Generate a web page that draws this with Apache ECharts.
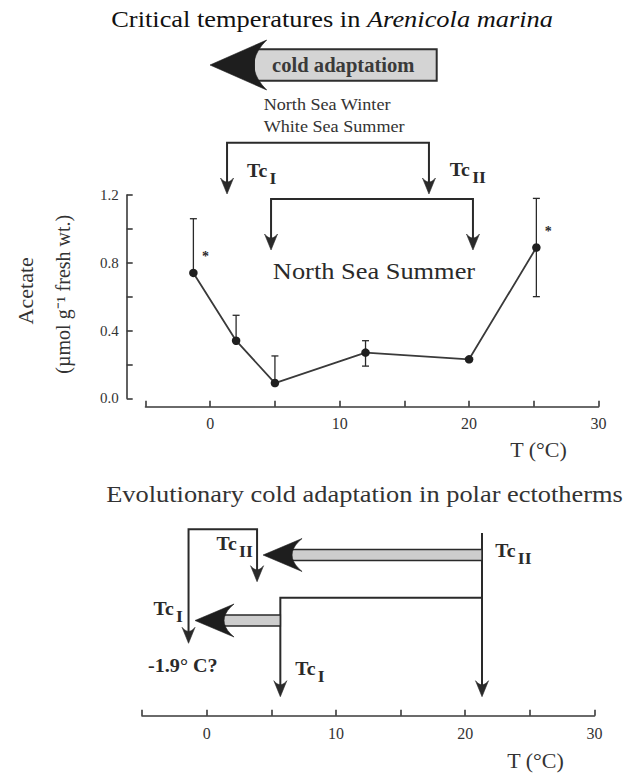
<!DOCTYPE html>
<html>
<head>
<meta charset="utf-8">
<title>Critical temperatures in Arenicola marina</title>
<script src="https://cdn.jsdelivr.net/npm/echarts@6/dist/echarts.min.js"></script>
<style>
  html, body { margin: 0; padding: 0; background: #ffffff; }
  #chart { width: 638px; height: 774px; }
</style>
</head>
<body>
<div id="chart"></div>
<script>
// ---- data ---------------------------------------------------------------
// Acetate accumulation (µmol g-1 fresh wt.) at each experimental temperature (°C)
const temperatures = [-1.3, 2, 5, 12, 20, 25.2];
const acetate      = [0.74, 0.34, 0.09, 0.27, 0.23, 0.89];
const errorUpper   = [0.32, 0.15, 0.16, 0.07, 0, 0.29];
const errorLower   = [0, 0, 0, 0.08, 0, 0.29];
const significant  = [1, 0, 0, 0, 0, 1];

// Critical temperatures [Tc I, Tc II] in °C
const tcNorthSeaWinter = [1.3, 16.9];
const tcNorthSeaSummer = [4.7, 20.3];
const tcTemperate      = [5.7, 21.3];
const tcPolar          = [-1.4, 3.9];

// Tick labels
const tempTickLabels    = [0, 10, 20, 30];
const acetateTickLabels = ['0.0', '0.4', '0.8', '1.2'];

// ---- styling helpers ----------------------------------------------------
const SERIF = '"Liberation Serif", "Times New Roman", Times, serif';
const INK = '#2a2a2a';
const AXIS = '#3a3a3a';

function font(size, weight, style) {
  return (style || 'normal') + ' ' + (weight || 'normal') + ' ' + size + 'px ' + SERIF;
}

function text(x, y, str, fnt, align, sx, fill, rot) {
  return {
    type: 'text', x: x, y: y, scaleX: sx || 1, rotation: rot || 0, silent: true,
    style: {
      text: str, font: fnt, fill: fill || INK,
      align: align || 'left', textAlign: align || 'left',
      verticalAlign: 'middle', textVerticalAlign: 'middle'
    }
  };
}

function polyline(points, width) {
  return { type: 'polyline', shape: { points: points },
    style: { stroke: INK, lineWidth: width || 2, fill: 'none' } };
}

function segment(x1, y1, x2, y2, width) {
  return { type: 'line', shape: { x1: x1, y1: y1, x2: x2, y2: y2 },
    style: { stroke: INK, lineWidth: width || 1.3 } };
}

// points along a quadratic curve p0 -> p2 with control c
function quad(p0, c, p2, n) {
  const pts = [];
  for (let i = 0; i <= n; i++) {
    const t = i / n, a = (1 - t) * (1 - t), b = 2 * t * (1 - t), d = t * t;
    pts.push([a * p0[0] + b * c[0] + d * p2[0], a * p0[1] + b * c[1] + d * p2[1]]);
  }
  return pts;
}

// arrow head polygon: tip, two barbs and a concave back
function headPolygon(tip, barb1, ctrl, barb2, fill) {
  return { type: 'polygon', silent: true,
    shape: { points: [tip].concat(quad(barb1, ctrl, barb2, 10)) },
    style: { fill: fill, stroke: fill, lineWidth: 0.6 } };
}

// downward arrow head with its tip at (x, yTip)
function headDown(x, yTip) {
  return headPolygon([x, yTip], [x - 6.5, yTip - 16], [x, yTip - 8], [x + 6.5, yTip - 16], INK);
}

// shaded leftward shift arrow from xStart to xTip, centred on yc
function grayArrow(xStart, xTip, yc) {
  return [
    { type: 'rect', shape: { x: xTip + 28, y: yc - 5.5, width: xStart - xTip - 28, height: 11 },
      style: { fill: '#cdcdcd', stroke: INK, lineWidth: 1.5 } },
    headPolygon([xTip, yc], [xTip + 39, yc - 16.5], [xTip + 19, yc], [xTip + 39, yc + 16.5], '#1e1e1e')
  ];
}

// "Tc" with subscript; x is the left edge (align 'left') or right edge (align 'right')
function tcLabel(x, baseline, sub, align) {
  const sx = 1.1;
  const mainW = 1.111 * 18 * sx;
  const subW = 0.389 * sub.length * 16 * sx;
  const left = align === 'right' ? x - mainW - subW - 0.5 : x;
  return [
    text(left, baseline - 0.3375 * 18, 'Tc', font(18, 'bold'), 'left', sx),
    text(left + mainW + 0.5, baseline + 7 - 0.3375 * 16, sub, font(16, 'bold'), 'left', sx)
  ];
}

// ---- annotation renderers ----------------------------------------------
function renderWinter(params, api) {
  const x1 = api.coord([api.value(0), 0])[0];
  const x2 = api.coord([api.value(1), 0])[0];
  const barY = 142.7, tipY = 194;
  return { type: 'group', children: [
    polyline([[x1, tipY - 11], [x1, barY], [x2, barY], [x2, tipY - 11]]),
    headDown(x1, tipY), headDown(x2, tipY),
    text(x1 + 36.6, 104.7, 'North Sea Winter', font(16.5), 'left', 1.1, '#333'),
    text(x1 + 36.6, 126.4, 'White Sea Summer', font(16.5), 'left', 1.1, '#333')
  ].concat(tcLabel(x1 + 20, 176.7, 'I', 'left'), tcLabel(x2 + 20.7, 176, 'II', 'left')) };
}

function renderSummer(params, api) {
  const x1 = api.coord([api.value(0), 0])[0];
  const x2 = api.coord([api.value(1), 0])[0];
  const barY = 199, tipY = 250;
  return { type: 'group', children: [
    polyline([[x1, tipY - 11], [x1, barY], [x2, barY], [x2, tipY - 11]]),
    headDown(x1, tipY), headDown(x2, tipY),
    text((x1 + x2) / 2 + 2, 270.7, 'North Sea Summer', font(24), 'center', 1.1, INK)
  ] };
}

function renderErrorBar(params, api) {
  const t = api.value(0), v = api.value(1), up = api.value(2), dn = api.value(3);
  const p = api.coord([t, v]);
  const cap = 3.5;
  const ch = [];
  if (up > 0) {
    const q = api.coord([t, v + up]);
    ch.push(segment(p[0], p[1], q[0], q[1]), segment(q[0] - cap, q[1], q[0] + cap, q[1]));
  }
  if (dn > 0) {
    const q = api.coord([t, v - dn]);
    ch.push(segment(p[0], p[1], q[0], q[1]), segment(q[0] - cap, q[1], q[0] + cap, q[1]));
  }
  if (api.value(4)) {
    ch.push(text(p[0] + 12, p[1] - 16.5, '*', font(14, 'bold'), 'center', 1, INK));
  }
  return { type: 'group', children: ch };
}

function renderEvolution(params, api) {
  const X = function (v) { return api.coord([v, 0])[0]; };
  const xT1 = X(api.value(0)), xT2 = X(api.value(1));
  const xP1 = X(api.value(2)), xP2 = X(api.value(3));
  const tipY = 696.7;
  let ch = [
    polyline([[xT2, 533], [xT2, tipY - 11]]),
    polyline([[xT2, 597.7], [xT1, 597.7], [xT1, tipY - 11]]),
    headDown(xT1, tipY), headDown(xT2, tipY)
  ];
  ch = ch.concat(grayArrow(xT2, xP2 + 6, 555), grayArrow(xT1, xP1 + 6.5, 620.5));
  ch.push(
    polyline([[xP1, 643.3 - 11], [xP1, 529.3], [xP2, 529.3], [xP2, 581.7 - 11]]),
    headDown(xP1, 643.3), headDown(xP2, 581.7),
    text(xP1 - 5.7, 671.7 - 0.3375 * 18, '-1.9° C?', font(18, 'bold'), 'center', 1.12, INK)
  );
  ch = ch.concat(
    tcLabel(xP2 - 4.3, 550, 'II', 'right'),
    tcLabel(xP1 - 5.7, 615, 'I', 'right'),
    tcLabel(xT2 + 13.3, 557.3, 'II', 'left'),
    tcLabel(xT1 + 15, 675, 'I', 'left')
  );
  return { type: 'group', children: ch };
}

// ---- axes ---------------------------------------------------------------
function tempAxis(gridIndex, offset, margin) {
  return {
    type: 'value', gridIndex: gridIndex, min: -5, max: 30, interval: 5,
    position: 'bottom', offset: offset,
    axisLine: { show: true, onZero: false, lineStyle: { color: AXIS, width: 1.6 } },
    axisTick: { show: true, inside: true, length: 6, lineStyle: { color: AXIS, width: 1.6 } },
    axisLabel: {
      margin: margin, color: '#333', fontFamily: SERIF, fontSize: 16,
      formatter: function (v) { return tempTickLabels.indexOf(v) >= 0 ? String(v) : ''; }
    },
    splitLine: { show: false }
  };
}

const chart = echarts.init(document.getElementById('chart'), null,
  { renderer: 'svg', width: 638, height: 774 });

chart.setOption({
  animation: false,
  backgroundColor: '#ffffff',
  grid: [
    { left: 145.5, top: 195, width: 453, height: 203.3, containLabel: false, outerBoundsMode: 'none' },
    { left: 142, top: 520, width: 452.5, height: 195.7, containLabel: false, outerBoundsMode: 'none' }
  ],
  xAxis: [tempAxis(0, 8.4, 9), tempAxis(1, 0, 10)],
  yAxis: [
    {
      type: 'value', gridIndex: 0, min: 0, max: 1.2, interval: 0.2,
      position: 'left', offset: 18.8,
      axisLine: { show: true, onZero: false, lineStyle: { color: AXIS, width: 1.6 } },
      axisTick: { show: true, inside: true, length: 6, lineStyle: { color: AXIS, width: 1.6 } },
      axisLabel: {
        margin: 8, color: '#333', fontFamily: SERIF, fontSize: 15,
        formatter: function (v) {
          const s = v.toFixed(1);
          return acetateTickLabels.indexOf(s) >= 0 ? s : '';
        }
      },
      splitLine: { show: false }
    },
    { type: 'value', gridIndex: 1, min: 0, max: 1, show: false }
  ],
  series: [
    {
      type: 'custom', name: 'error', xAxisIndex: 0, yAxisIndex: 0, z: 2, silent: true,
      data: temperatures.map(function (t, i) {
        return [t, acetate[i], errorUpper[i], errorLower[i], significant[i]];
      }),
      encode: { x: 0, y: 1 },
      renderItem: renderErrorBar
    },
    {
      type: 'line', name: 'Acetate', xAxisIndex: 0, yAxisIndex: 0, z: 3, silent: true,
      data: temperatures.map(function (t, i) { return [t, acetate[i]]; }),
      symbol: 'circle', symbolSize: 8.5, showSymbol: true,
      lineStyle: { color: AXIS, width: 1.8 },
      itemStyle: { color: '#1f1f1f' }
    },
    {
      type: 'custom', name: 'North Sea Winter', xAxisIndex: 0, yAxisIndex: 0, silent: true,
      data: [tcNorthSeaWinter], encode: { x: [0, 1] }, renderItem: renderWinter
    },
    {
      type: 'custom', name: 'North Sea Summer', xAxisIndex: 0, yAxisIndex: 0, silent: true,
      data: [tcNorthSeaSummer], encode: { x: [0, 1] }, renderItem: renderSummer
    },
    {
      type: 'custom', name: 'Evolutionary adaptation', xAxisIndex: 1, yAxisIndex: 1, silent: true,
      data: [tcTemperate.concat(tcPolar)], encode: { x: [0, 1, 2, 3] }, renderItem: renderEvolution
    }
  ],
  graphic: [
    // headline
    text(360.4, 19, 'Critical temperatures in', font(24), 'right', 1.1, '#111'),
    text(367, 19, 'Arenicola marina', font(24, 'normal', 'italic'), 'left', 1.1, '#111'),
    // cold adaptation arrow
    { type: 'rect', silent: true, shape: { x: 254, y: 49.3, width: 182.7, height: 31.4 },
      style: { fill: '#d4d4d4', stroke: '#2e2e2e', lineWidth: 2 } },
    headPolygon([210, 65], [266.7, 40], [241.3, 65], [266.7, 90], '#1e1e1e'),
    text(343.3, 65, 'cold adaptatiom', font(20, 'bold'), 'center', 1.03, '#3a3a3a'),
    // y axis title
    text(25, 290.8, 'Acetate', font(22), 'center', 1, '#333', Math.PI / 2),
    text(62.5, 294.2, '(µmol g⁻¹ fresh wt.)', font(20), 'center', 1, '#333', Math.PI / 2),
    // x axis titles
    text(538.5, 450.6, 'T (°C)', font(20), 'center', 1.1, '#333'),
    // lower panel headline
    text(364.5, 494, 'Evolutionary cold adaptation in polar ectotherms', font(24), 'center', 1.1, '#333'),
    text(535.5, 761.5, 'T (°C)', font(20), 'center', 1.1, '#333')
  ]
});
</script>
</body>
</html>
